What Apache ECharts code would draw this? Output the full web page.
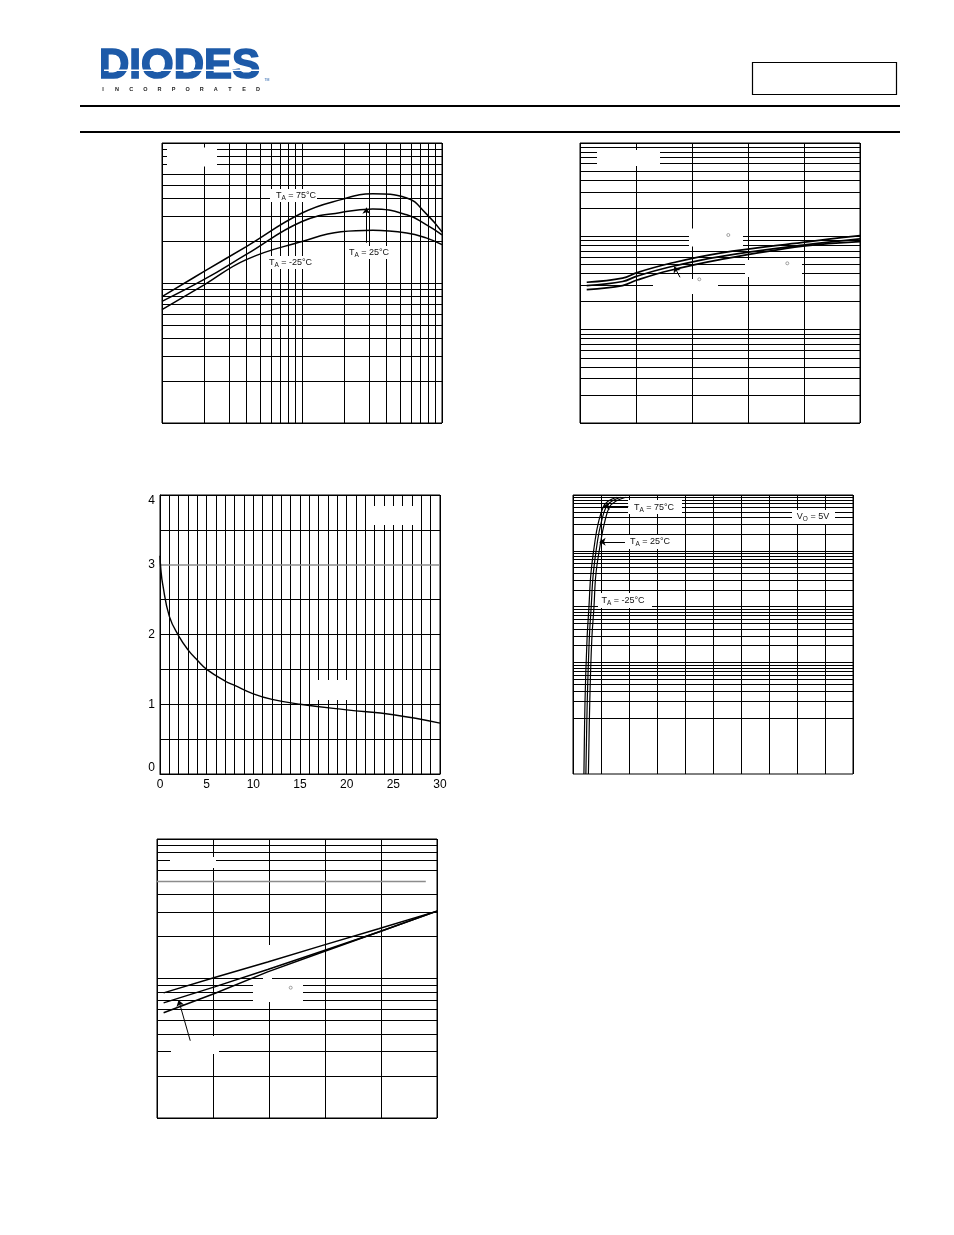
<!DOCTYPE html>
<html><head><meta charset="utf-8">
<script src="https://cdn.jsdelivr.net/npm/echarts@6.0.0/dist/echarts.min.js"></script>
<style>html,body{margin:0;padding:0;background:#fff}#c{width:954px;height:1235px}</style>
</head><body><div id="c"></div>
<script>
// ---------- DATA ----------
// Chart 1 (log x, log y)
const c1X    = [1, 2, 4, 10, 19, 32, 56, 77, 100];
const c1T75  = [80, 121, 182, 316, 394, 434, 405, 313, 232];
const c1T25  = [74, 106, 160, 275, 319, 338, 307, 261, 221];
const c1Tm25 = [64.5, 97, 147, 198, 232, 238, 228, 210, 188];
// Chart 2 (linear x, log y)
const c2X   = [-44, -12, 1, 30, 75, 149, 200];
const c2Top = [0.322, 0.357, 0.409, 0.511, 0.661, 0.863, 1.017];
const c2Mid = [0.296, 0.328, 0.375, 0.469, 0.607, 0.805, 0.938];
const c2Bot = [0.269, 0.297, 0.340, 0.430, 0.563, 0.785, 0.878];
// Chart 3 (linear)
const c3X = [0, 0.1, 0.3, 1, 2, 3, 4, 5, 7, 8, 10, 12, 15, 20, 25, 30];
const c3Y = [3.13, 2.92, 2.71, 2.26, 1.98, 1.78, 1.63, 1.5, 1.33, 1.27, 1.15, 1.07, 1.0, 0.92, 0.85, 0.73];
const c3XTicks = [0, 5, 10, 15, 20, 25, 30];
const c3YTicks = [0, 1, 2, 3, 4];
// Chart 4 (linear x, log y)
const c4Y    = [0.001, 0.021, 0.25, 1.0, 3.9, 15.5, 31, 61, 77, 91];
const c4X75  = [0.39, 0.43, 0.50, 0.57, 0.64, 0.79, 0.90, 1.08, 1.25, 1.55];
const c4X25  = [0.46, 0.51, 0.58, 0.65, 0.725, 0.88, 1.00, 1.18, 1.38, 1.70];
const c4Xm25 = [0.55, 0.60, 0.67, 0.75, 0.82, 1.00, 1.12, 1.30, 1.52, 1.88];
// Chart 5 (linear x, log y)
const c5X   = [-44.1, 1.4, 48.8, 97.9, 147.9, 200];
const c5Top = [78.9, 101.6, 131.4, 172.8, 227.6, 304];
const c5Mid = [66.9, 87.1, 115.9, 157.4, 215.3, 304];
const c5Bot = [56.8, 78.1, 111.5, 154.9, 215.3, 304];
// Annotation arrows (data coordinates)
const c1Arrow = [[28.8, 194], [28.8, 345]];
const c2Arrow = [[39.3, 0.364], [34.2, 0.474]];
const c4Ptr75 = [[1.975, 63.8], [1.10, 63.8]];
const c4Ptr25 = [[1.857, 14.5], [0.95, 14.5]];
const c5Arrow = [[-20.3, 35.8], [-30.7, 70]];

// ---------- helpers ----------
function zip(xs, ys) { return xs.map((x, i) => [x, ys[i]]); }
function logLines(min, max, skip) {
  const out = [];
  for (let d = min; d < max * 0.999; d *= 10)
    for (let k = 1; k < 10; k++) {
      const v = +(d * k).toPrecision(4);
      if (!skip || skip.indexOf(v) < 0) out.push(v);
    }
  out.push(max);
  return out;
}
const BLK = '#000';
const grids = [
  {left: 162, top: 143, width: 280, height: 280},
  {left: 580, top: 143, width: 280, height: 280},
  {left: 160, top: 495, width: 280, height: 279},
  {left: 573, top: 495, width: 280, height: 279},
  {left: 157, top: 839, width: 280, height: 279}
].map(g => Object.assign(g, {show: true, borderColor: BLK, borderWidth: 1, backgroundColor: 'transparent'}));

const hid = {axisLine: {show: false}, axisTick: {show: false}, axisLabel: {show: false}};
function logAxis(i, min, max) { return Object.assign({type: 'log', logBase: 10, gridIndex: i, min, max, splitLine: {show: false}}, hid); }
function valAxis(i, min, max, interval) {
  return Object.assign({type: 'value', gridIndex: i, min, max, interval,
    splitLine: {show: true, lineStyle: {color: BLK, width: 1}}}, hid);
}

const xAxes = [
  logAxis(0, 1, 100),
  valAxis(1, -50, 200, 50),
  {type: 'value', gridIndex: 2, min: 0, max: 30, interval: 1,
   axisLine: {show: true, lineStyle: {color: BLK, width: 1}}, axisTick: {show: false},
   splitLine: {show: true, lineStyle: {color: BLK, width: 1}},
   axisLabel: {show: true, margin: 5, color: '#000', fontSize: 12, fontFamily: 'Liberation Sans',
     formatter: v => (c3XTicks.indexOf(v) >= 0 ? String(v) : '')}},
  valAxis(3, 0, 10, 1),
  valAxis(4, -50, 200, 50)
];
const yAxes = [
  logAxis(0, 10, 1000),
  logAxis(1, 0.01, 10),
  {type: 'value', gridIndex: 2, min: 0, max: 4, interval: 0.5,
   axisLine: {show: true, lineStyle: {color: BLK, width: 1}}, axisTick: {show: false},
   splitLine: {show: true, lineStyle: {width: 1, color: [BLK, BLK, BLK, BLK, BLK, BLK, 'transparent', BLK, BLK]}},
   axisLabel: {show: true, margin: 5, color: '#000', fontSize: 12, fontFamily: 'Liberation Sans',
     verticalAlignMaxLabel: 'top', verticalAlignMinLabel: 'bottom',
     formatter: v => (c3YTicks.indexOf(v) >= 0 ? String(v) : '')}},
  logAxis(3, 0.001, 100),
  logAxis(4, 10, 1000)
];

function gridSeries(i, anchor, xs, ys, extra) {
  const data = [];
  xs.forEach(v => data.push({xAxis: v}));
  ys.forEach(v => data.push({yAxis: v}));
  (extra || []).forEach(e => data.push(e));
  return {type: 'line', xAxisIndex: i, yAxisIndex: i, data: [anchor], symbol: 'none',
    lineStyle: {opacity: 0}, silent: true, z: 0,
    markLine: {silent: true, z: 1, symbol: 'none', animation: false, label: {show: false},
      lineStyle: {type: 'solid', color: BLK, width: 1}, data}};
}
function curve(i, data, width, smooth, arrows) {
  const s = {type: 'line', xAxisIndex: i, yAxisIndex: i, data, symbol: 'none', silent: true,
    smooth: smooth, lineStyle: {color: BLK, width}, z: 30};
  if (arrows) {
    s.markLine = {silent: true, z: 32, symbol: ['none', 'arrow'], symbolSize: 6, animation: false,
      label: {show: false}, lineStyle: {type: 'solid', color: BLK, width: 1},
      data: arrows.map(a => [{coord: a[0]}, {coord: a[1]}])};
  }
  return s;
}

const series = [
  gridSeries(0, [1, 10], logLines(1, 100), logLines(10, 1000)),
  gridSeries(1, [0, 0.01], [], logLines(0.01, 10)),
  gridSeries(2, [0, 0], [], [],
    [{yAxis: 3, lineStyle: {color: '#8c8c8c', width: 1.5}}]),
  gridSeries(3, [0, 0.001], [], logLines(0.001, 100)),
  gridSeries(4, [0, 10], [], logLines(10, 1000, [500]),
    [[{coord: [-50, 500], lineStyle: {color: '#8c8c8c', width: 1.3}}, {coord: [190, 500]}]]),
  curve(0, zip(c1X, c1T75), 1.5, 0.45),
  curve(0, zip(c1X, c1T25), 1.5, 0.45, [c1Arrow]),
  curve(0, zip(c1X, c1Tm25), 1.5, 0.45),
  curve(1, zip(c2X, c2Top), 1.7, 0.4, [c2Arrow]),
  curve(1, zip(c2X, c2Mid), 1.7, 0.4),
  curve(1, zip(c2X, c2Bot), 1.7, 0.4),
  curve(2, zip(c3X, c3Y), 1.4, 0.45),
  curve(3, zip(c4X75, c4Y), 1.2, 0.4, [c4Ptr75]),
  curve(3, zip(c4X25, c4Y), 1.2, 0.4, [c4Ptr25]),
  curve(3, zip(c4Xm25, c4Y), 1.2, 0.4),
  curve(4, zip(c5X, c5Top), 1.5, false),
  curve(4, zip(c5X, c5Mid), 1.5, false, [c5Arrow]),
  curve(4, zip(c5X, c5Bot), 1.5, false)
];

// ---------- annotations ----------
const whiteBoxes = [
  [167, 147.5, 50, 19], [270, 189, 47, 13], [266, 256, 48, 13], [346, 246, 45, 13],
  [597, 150, 63, 16], [689, 228.5, 54, 18], [745, 260, 57, 17], [653, 279, 65, 15],
  [372, 506, 46, 19], [317, 680, 38, 20],
  [628, 500, 54, 14], [792, 510, 43, 14], [625, 535, 50, 14], [598, 593, 54, 15],
  [170, 857, 46, 11], [253, 983, 50, 19], [263, 945, 9, 39], [171, 1036, 48, 18]
];
const degreeMarks = [[728.3, 235], [787.3, 263.3], [699.3, 279.3], [290.7, 987.7]];
const labels = [
  ['T', 'A', ' = 75°C', 296, 195.5], ['T', 'A', ' = -25°C', 290.5, 262.5], ['T', 'A', ' = 25°C', 369, 252.5],
  ['T', 'A', ' = 75°C', 654, 507.5], ['V', 'O', ' = 5V', 813, 517], ['T', 'A', ' = 25°C', 650, 542],
  ['T', 'A', ' = -25°C', 623, 601]
];
const FF = 'Liberation Sans';
const gfx = [];
whiteBoxes.forEach(b => gfx.push({type: 'rect', z: 20, silent: true,
  shape: {x: b[0], y: b[1], width: b[2], height: b[3]}, style: {fill: '#fff'}}));
degreeMarks.forEach(d => gfx.push({type: 'circle', z: 21, silent: true,
  shape: {cx: d[0], cy: d[1], r: 1.5}, style: {fill: 'none', stroke: '#8a8a8a', lineWidth: 0.8}}));
labels.forEach(l => gfx.push({type: 'text', z: 40, silent: true, x: l[3], y: l[4],
  style: {text: '{a|' + l[0] + '}{s|' + l[1] + '}{a|' + l[2] + '}', align: 'center', verticalAlign: 'middle',
    rich: {a: {fontSize: 9, fontFamily: FF, fill: '#111', lineHeight: 12, verticalAlign: 'middle'},
           s: {fontSize: 6.5, fontFamily: FF, fill: '#111', verticalAlign: 'bottom'}}}}));
// header
gfx.push({type: 'text', z: 1, silent: true, x: 99, y: 66,
  style: {text: 'DIODES', fontSize: 42, fontWeight: 'bold', fontFamily: FF, fill: '#1d5aa8',
    stroke: '#1d5aa8', lineWidth: 1.6, align: 'left', verticalAlign: 'middle'}});
gfx.push({type: 'rect', z: 2, silent: true, shape: {x: 104, y: 69.6, width: 158, height: 1.4}, style: {fill: '#fff'}});
'INCORPORATED'.split('').forEach((ch, i) => gfx.push({type: 'text', z: 1, silent: true, x: 103 + i * 14.1, y: 89,
  style: {text: ch, fontSize: 5.5, fontWeight: 'bold', fontFamily: FF, fill: '#222', align: 'center', verticalAlign: 'middle'}}));
gfx.push({type: 'text', z: 1, silent: true, x: 267, y: 80,
  style: {text: 'TM', fontSize: 3.5, fontFamily: FF, fill: '#1d5aa8', align: 'center', verticalAlign: 'middle'}});
gfx.push({type: 'rect', z: 1, silent: true, shape: {x: 752.5, y: 62.5, width: 144, height: 32},
  style: {fill: 'none', stroke: '#000', lineWidth: 1.2}});
gfx.push({type: 'rect', z: 1, silent: true, shape: {x: 80, y: 105, width: 820, height: 2}, style: {fill: '#000'}});
gfx.push({type: 'rect', z: 1, silent: true, shape: {x: 80, y: 131, width: 820, height: 2}, style: {fill: '#000'}});

const chart = echarts.init(document.getElementById('c'), null, {renderer: 'canvas'});
chart.setOption({
  animation: false,
  backgroundColor: '#fff',
  grid: grids,
  xAxis: xAxes,
  yAxis: yAxes,
  series: series,
  graphic: {elements: gfx}
});
</script></body></html>
